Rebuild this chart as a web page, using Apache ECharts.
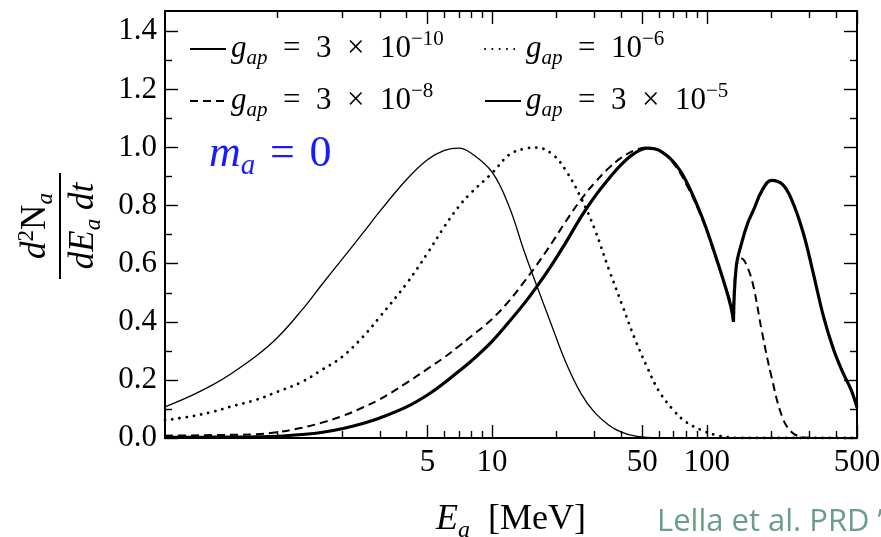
<!DOCTYPE html>
<html><head><meta charset="utf-8">
<script src="https://cdn.jsdelivr.net/npm/echarts@6/dist/echarts.min.js"></script>
<style>html,body{margin:0;padding:0;background:#fff}#c{width:881px;height:537px}</style>
</head><body><div id="c"></div>
<script>
// ---- data ----
const energies = [0.3,0.4,0.5,0.6,0.8,1,1.3,1.6,2,2.5,3,4,5,6,7,8,10,12,14,16,19,22,26,30,35,40,46,53,60,70,80,95,110,122,130,133,137,145,155,165,180,200,225,250,280,310,350,390,430,470,500];
const g3e10 = [0.002,0.002,0.003,0.003,0.004,0.006,0.012,0.019,0.032,0.05,0.069,0.107,0.148,0.19,0.23,0.265,0.333,0.40,0.46,0.517,0.597,0.672,0.762,0.83,0.893,0.942,0.98,0.998,0.99,0.95,0.885,0.76,0.625,0.52,0.445,0.40,0.59,0.67,0.74,0.785,0.85,0.887,0.873,0.815,0.71,0.58,0.415,0.302,0.225,0.165,0.105];
const g3e8 = [0.008,0.009,0.01,0.011,0.013,0.02,0.035,0.052,0.075,0.105,0.133,0.19,0.238,0.278,0.316,0.35,0.41,0.472,0.535,0.592,0.672,0.745,0.822,0.878,0.93,0.965,0.99,1.0,0.99,0.945,0.875,0.755,0.62,0.52,0.462,0.445,0.59,0.618,0.585,0.52,0.37,0.21,0.07,0.018,0.003,0,0,0,0,0,0];
const g1e6 = [0.061,0.075,0.09,0.107,0.132,0.159,0.193,0.233,0.279,0.348,0.417,0.532,0.636,0.728,0.797,0.845,0.912,0.975,0.995,1.0,0.978,0.922,0.825,0.72,0.58,0.465,0.345,0.24,0.16,0.095,0.055,0.026,0.01,0.004,0.002,0.001,0,0,0,0,0,0,0,0,0,0,0,0,0,0,0];
const g3e5 = [0.107,0.147,0.183,0.218,0.283,0.345,0.44,0.525,0.615,0.705,0.78,0.89,0.958,0.99,0.998,0.98,0.915,0.797,0.65,0.532,0.385,0.262,0.152,0.088,0.044,0.02,0.007,0.002,0,0,0,0,0,0,0,0,0,0,0,0,0,0,0,0,0,0,0,0,0,0,0];
const cuspIndex = 35;
const xMajorTicks = [5,10,50,100,500];
const xMinorTicks = [1,2,3,4,6,7,8,9,20,30,40,60,70,80,90,200,300,400];
const yMajorTicks = [0,0.2,0.4,0.6,0.8,1.0,1.2,1.4];
const yMinorTicks = [0.1,0.3,0.5,0.7,0.9,1.1,1.3];
const names = {
  a: 'g_ap = 3×10^-10', b: 'g_ap = 3×10^-8', c: 'g_ap = 10^-6', d: 'g_ap = 3×10^-5'
};
const SP = '\u2002';
const legendRich = {};
legendRich[names.a] = '{g|g}{s|ap}{t|' + SP + '=' + SP + '3' + SP + '×' + SP + '10}{p|−10}';
legendRich[names.b] = '{g|g}{s|ap}{t|' + SP + '=' + SP + '3' + SP + '×' + SP + '10}{p|−8}';
legendRich[names.c] = '{g|g}{s|ap}{t|' + SP + '=' + SP + '10}{p|−6}';
legendRich[names.d] = '{g|g}{s|ap}{t|' + SP + '=' + SP + '3' + SP + '×' + SP + '10}{p|−5}';

// ---- chart ----
const SERIF = '"Liberation Serif","Times New Roman",serif';
function pairs(vals, from, to) {
  const out = [];
  for (let i = from; i <= to; i++) out.push([energies[i], vals[i]]);
  return out;
}
const last = energies.length - 1;
const richText = {
  g: {fontFamily: SERIF, fontStyle: 'italic', fontSize: 31, lineHeight: 40, color: '#000'},
  s: {fontFamily: SERIF, fontStyle: 'italic', fontSize: 21, lineHeight: 21, verticalAlign: 'bottom', color: '#000'},
  t: {fontFamily: SERIF, fontSize: 31, lineHeight: 40, color: '#000'},
  p: {fontFamily: SERIF, fontSize: 21, lineHeight: 21, verticalAlign: 'top', color: '#000'}
};
function legendOf(items, left) {
  return {
    data: items, orient: 'vertical', left: left, top: 24, padding: 5,
    itemWidth: 36, itemHeight: 14, itemGap: 12, selectedMode: false,
    itemStyle: {color: 'rgba(0,0,0,0)', borderWidth: 0, opacity: 0},
    formatter: n => legendRich[n],
    textStyle: {rich: richText, fontFamily: SERIF, fontSize: 31, color: '#000'}
  };
}
function xAx(pos, ticks, len, label, line) {
  return {
    type: 'log', logBase: 10, min: 0.3, max: 500, position: pos, gridIndex: 0,
    axisLine: {show: line, onZero: false, lineStyle: {color: '#000', width: 2}},
    axisTick: {show: true, inside: true, length: len, customValues: ticks, lineStyle: {color: '#000', width: 1.4}},
    axisLabel: label ? {show: true, customValues: xMajorTicks, formatter: v => String(v), fontFamily: SERIF, fontSize: 31, color: '#000', margin: 9} : {show: false},
    splitLine: {show: false}, minorTick: {show: false}, minorSplitLine: {show: false}
  };
}
function yAx(pos, ticks, len, label, line) {
  return {
    type: 'value', min: 0, max: 1.47, position: pos, gridIndex: 0,
    axisLine: {show: line, onZero: false, lineStyle: {color: '#000', width: 2}},
    axisTick: {show: true, inside: true, length: len, customValues: ticks, lineStyle: {color: '#000', width: 1.4}},
    axisLabel: label ? {show: true, customValues: yMajorTicks, formatter: v => Number(v).toFixed(1), fontFamily: SERIF, fontSize: 31, color: '#000', margin: 8} : {show: false},
    splitLine: {show: false}
  };
}
const bottomMajor = xAx('bottom', xMajorTicks, 13, true, true);
bottomMajor.name = '{e|E}{a|a}{t|' + SP + '[MeV]}';
bottomMajor.nameLocation = 'middle';
bottomMajor.nameGap = 59;
bottomMajor.nameTextStyle = {rich: {
  e: {fontFamily: SERIF, fontStyle: 'italic', fontSize: 36, lineHeight: 46, color: '#000'},
  a: {fontFamily: SERIF, fontStyle: 'italic', fontSize: 24, lineHeight: 23, verticalAlign: 'bottom', color: '#000'},
  t: {fontFamily: SERIF, fontSize: 36, lineHeight: 46, color: '#000'}
}};

function line(name, vals, from, to, style) {
  return {
    type: 'line', name: name, data: pairs(vals, from, to), xAxisIndex: 0, yAxisIndex: 0,
    symbol: 'none', showSymbol: false, smooth: 0.4, silent: true, animation: false,
    lineStyle: Object.assign({color: '#000'}, style), itemStyle: {color: '#000'}
  };
}
const thick = {width: 3.2};
const dashed = {width: 2, type: [8, 5]};
const dotted = {width: 2.8, type: [0.1, 7.2], cap: 'round'};
const thin = {width: 1.3};

const yFracRich = {
  d: {fontFamily: SERIF, fontStyle: 'italic', fontSize: 35, lineHeight: 42, fill: '#000'},
  n: {fontFamily: SERIF, fontSize: 35, lineHeight: 42, fill: '#000'},
  sup: {fontFamily: SERIF, fontSize: 23, lineHeight: 23, verticalAlign: 'top', fill: '#000'},
  sub: {fontFamily: SERIF, fontStyle: 'italic', fontSize: 23, lineHeight: 23, verticalAlign: 'bottom', fill: '#000'}
};
const BLUE = '#1a1aff';
const option = {
  backgroundColor: '#fff',
  animation: false,
  grid: {left: 165, right: 24, top: 11, bottom: 99, containLabel: false, outerBoundsMode: 'none'},
  xAxis: [bottomMajor, xAx('bottom', xMinorTicks, 7, false, false), xAx('top', xMajorTicks, 13, false, true), xAx('top', xMinorTicks, 7, false, false)],
  yAxis: [yAx('left', yMajorTicks, 13, true, true), yAx('left', yMinorTicks, 7, false, false), yAx('right', yMajorTicks, 13, false, true), yAx('right', yMinorTicks, 7, false, false)],
  legend: [legendOf([names.a, names.b], 184), legendOf([names.c, names.d], 479)],
  series: [
    line(names.d, g3e5, 0, last, thin),
    line(names.c, g1e6, 0, last, dotted),
    line(names.b, g3e8, 0, cuspIndex, dashed),
    line(names.b, g3e8, cuspIndex, last, dashed),
    line(names.a, g3e10, 0, cuspIndex, thick),
    line(names.a, g3e10, cuspIndex, last, thick)
  ],
  graphic: [
    {type: 'text', left: 209, top: 132, style: {
      text: '{m|m}{a|a}{e|\u2004=\u20040}', fill: BLUE, rich: {
        m: {fontFamily: SERIF, fontStyle: 'italic', fontSize: 44, lineHeight: 54, fill: BLUE},
        a: {fontFamily: SERIF, fontStyle: 'italic', fontSize: 29, lineHeight: 27, verticalAlign: 'bottom', fill: BLUE},
        e: {fontFamily: SERIF, fontSize: 44, lineHeight: 54, fill: BLUE}
      }}},
    {type: 'group', x: 60, y: 226, rotation: Math.PI / 2, children: [
      {type: 'text', style: {text: '{d|d}{sup|2}{n|N}{sub|a}', x: 0, y: -3, align: 'center', verticalAlign: 'bottom', rich: yFracRich}},
      {type: 'line', shape: {x1: -53, y1: 0, x2: 53, y2: 0}, style: {stroke: '#000', lineWidth: 2}},
      {type: 'text', style: {text: '{d|dE}{sub|a}{d| dt}', x: 0, y: 3, align: 'center', verticalAlign: 'top', rich: yFracRich}}
    ]},
    {type: 'text', left: 657, top: 507, style: {text: 'Lella et al. PRD \u201924', font: '31px "Open Sans"', fill: '#6b9e87'}}
  ]
};
const chart = echarts.init(document.getElementById('c'), null, {renderer: 'canvas'});
chart.setOption(option);
</script>
</body></html>
